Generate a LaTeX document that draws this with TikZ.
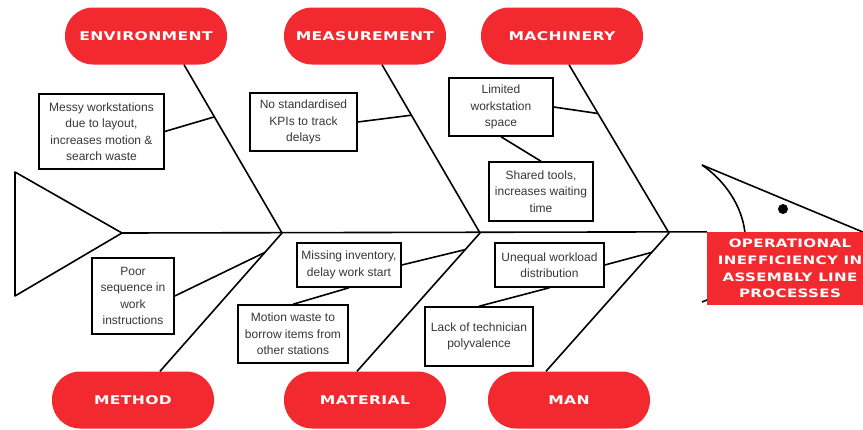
\documentclass[tikz,border=0pt]{standalone}
\usepackage{fontspec}
\setmainfont{Liberation Sans}
\newfontfamily\catfont[FakeStretch=1.3,LetterSpace=3]{DejaVu Sans}
\usepackage{tikz}
\usetikzlibrary{calc}
\definecolor{fishred}{RGB}{242,42,48}
\definecolor{causegray}{RGB}{55,55,55}

\begin{document}
\begin{tikzpicture}[
    x=1pt, y=-1pt,
    bone/.style={line width=1.6pt, line join=round},
    cat/.style={fill=fishred, text=white, rounded corners=28pt, minimum width=162pt, minimum height=57pt, inner sep=0pt, font=\catfont\bfseries\fontsize{12}{14}\selectfont},
    headbox/.style={fill=fishred, text=white, minimum width=166pt, minimum height=73pt, inner sep=0pt, align=center, font=\catfont\bfseries\fontsize{11.6}{16.8}\selectfont},
    cause/.style={draw, line width=1.5pt, fill=white, text=causegray, inner sep=0pt, align=center, font=\fontsize{12}{16.5}\selectfont},
    link/.style={line width=1.6pt}
]
    \useasboundingbox (0,0) rectangle (863,429);
    \clip (0,0) rectangle (863,429);

    % tail and spine
    \coordinate (tailtip) at (122,233);
    \draw[bone] (15,172) -- (tailtip) -- (15,296) -- cycle;
    \coordinate (j1) at (282,233);
    \coordinate (j2) at (480,233);
    \coordinate (j3) at (669,233);

    % head
    \coordinate (snout) at (702,165);
    \coordinate (jaw) at (702,302);
    \draw[bone] (snout) -- (870,235);
    \draw[bone] (jaw) -- (870,233);
    \draw[bone] (snout) .. controls (724,180) and (742,205) .. (745,233);
    \fill (783,209) circle (5pt);
    \node[headbox] (head) at (790,268.5) {OPERATIONAL\\INEFFICIENCY IN\\ASSEMBLY LINE\\PROCESSES};
    \draw[bone] (tailtip) -- (head.north west);

    % categories
    \node[cat] (env) at (146,36) {ENVIRONMENT};
    \node[cat] (meas) at (365,36) {MEASUREMENT};
    \node[cat] (mach) at (562,36) {MACHINERY};
    \node[cat] (meth) at (133,400) {METHOD};
    \node[cat] (matl) at (365,400) {MATERIAL};
    \node[cat] (man) at (569,400) {MAN};

    % bones
    \coordinate (envend) at ($(env.south)+(38,0)$);
    \coordinate (measend) at ($(meas.south)+(17,0)$);
    \coordinate (machend) at ($(mach.south)+(7,0)$);
    \coordinate (methend) at ($(meth.north)+(27,0)$);
    \coordinate (matlend) at ($(matl.north)+(-8,0)$);
    \coordinate (manend) at ($(man.north)+(-23,0)$);
    \draw[bone] (envend) -- (j1) -- (methend);
    \draw[bone] (measend) -- (j2) -- (matlend);
    \draw[bone] (machend) -- (j3) -- (manend);

    \coordinate (envpt) at ($(envend)!0.31!(j1)$);
    \coordinate (measpt) at ($(measend)!0.30!(j2)$);
    \coordinate (machpt) at ($(machend)!0.29!(j3)$);
    \coordinate (methpt) at ($(j1)!0.14!(methend)$);
    \coordinate (matlpt) at ($(j2)!0.12!(matlend)$);
    \coordinate (manpt) at ($(j3)!0.14!(manend)$);

    % causes
    \node[cause, minimum width=125pt, minimum height=75pt] (messy) at (101.5,131.5) {Messy workstations\\due to layout,\\increases motion \&\\search waste};
    \node[cause, minimum width=107pt, minimum height=58pt] (kpi) at (303.5,122) {No standardised\\KPIs to track\\delays};
    \node[cause, minimum width=104pt, minimum height=58pt] (space) at (501,107) {Limited\\workstation\\space};
    \node[cause, minimum width=104pt, minimum height=59pt] (tools) at (541,191.5) {Shared tools,\\increases waiting\\time};
    \node[cause, minimum width=82pt, minimum height=76pt] (seq) at (133,296) {Poor\\sequence in\\work\\instructions};
    \node[cause, minimum width=104pt, minimum height=44pt] (stock) at (349,265) {Missing inventory,\\delay work start};
    \node[cause, minimum width=110pt, minimum height=58pt] (borrow) at (293,334) {Motion waste to\\borrow items from\\other stations};
    \node[cause, minimum width=109pt, minimum height=44pt] (load) at (549.5,265) {Unequal workload\\distribution};
    \node[cause, minimum width=108pt, minimum height=59pt] (skill) at (479,336.5) {Lack of technician\\polyvalence};

    \draw[link] (messy.east) -- (envpt);
    \draw[link] (kpi.east) -- (measpt);
    \draw[link] (space.east) -- (machpt);
    \draw[link] (space.south) -- (tools.north);
    \draw[link] (seq.east) -- (methpt);
    \draw[link] (stock.east) -- (matlpt);
    \draw[link] (stock.south) -- (borrow.north);
    \draw[link] (load.east) -- (manpt);
    \draw[link] (load.south) -- (skill.north);
\end{tikzpicture}
\end{document}
